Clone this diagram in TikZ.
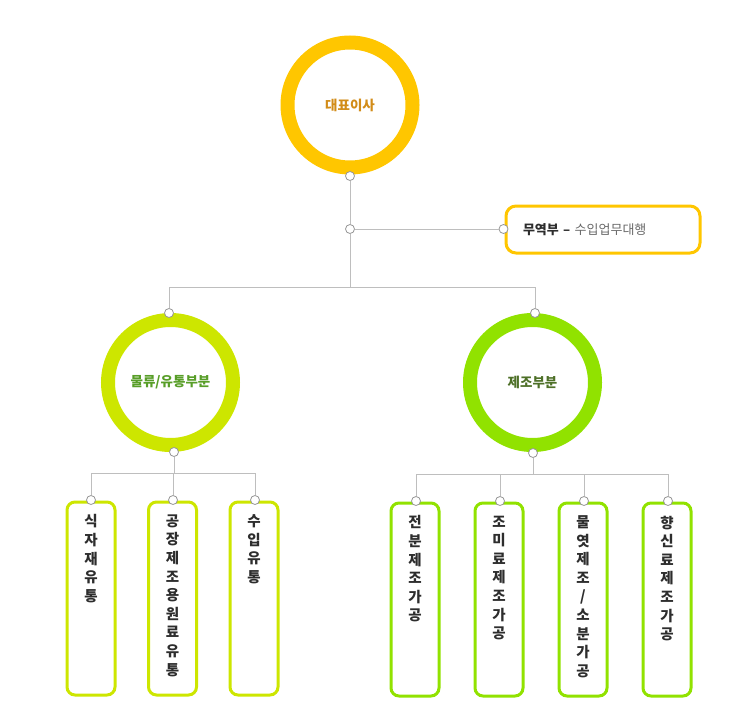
\documentclass[tikz,border=0pt]{standalone}
\usepackage{fontspec}
\setmainfont{Noto Sans CJK KR}
\usetikzlibrary{positioning}
\definecolor{ceoyellow}{RGB}{255,198,0}
\definecolor{ceotext}{RGB}{210,140,24}
\definecolor{logigreen}{RGB}{205,230,0}
\definecolor{logitext}{RGB}{88,158,40}
\definecolor{makegreen}{RGB}{145,226,0}
\definecolor{maketext}{RGB}{78,112,40}
\definecolor{linkgray}{RGB}{190,190,190}
\definecolor{dotgray}{RGB}{150,150,150}
\definecolor{darktext}{RGB}{45,45,45}
\definecolor{softtext}{RGB}{105,105,105}

\begin{document}
\begin{tikzpicture}[x=1pt,y=-1pt]
    \tikzstyle{ring}=[circle, minimum size=125pt, inner sep=0pt, line width=14pt, fill=white, font=\fontsize{13.5}{15}\selectfont\bfseries]
    \tikzstyle{dot}=[circle, minimum size=9pt, inner sep=0pt, draw=dotgray, fill=white, line width=0.8pt]
    \tikzstyle{link}=[draw=linkgray, line width=0.9pt]
    \tikzstyle{tag}=[rectangle, rounded corners=8pt, line width=3pt, minimum width=48pt, minimum height=193pt, inner sep=0pt]
    \tikzstyle{tagtext}=[anchor=north, align=center, inner sep=0pt, text=darktext, font=\fontsize{14.5}{18.6}\selectfont\bfseries]

    \useasboundingbox (0,0) rectangle (750,720);

    % rings
    \node[ring, draw=ceoyellow, text=ceotext] (CEO) at (350,105) {대표이사};
    \node[ring, draw=logigreen, text=logitext] (LOG) at (170.5,382.5) {물류/유통부분};
    \node[ring, draw=makegreen, text=maketext] (MAK) at (532.5,382.5) {제조부분};

    \node[rectangle, rounded corners=10pt, draw=ceoyellow, line width=3pt, text width=160pt, inner xsep=17pt, minimum height=47pt, align=left,
          font=\fontsize{13}{15}\selectfont] (TRD) at (603,229.5)
          {{\bfseries\color{darktext}무역부 –} {\color{softtext}수입업무대행}};

    % lower boxes
    \node[tag, draw=logigreen] (L-1) at (91,598.5) {};
    \node[tag, draw=logigreen] (L-2) at (172.5,598.5) {};
    \node[tag, draw=logigreen] (L-3) at (254,598.5) {};
    \node[tag, draw=makegreen] (M-1) at (415,599.5) {};
    \node[tag, draw=makegreen] (M-2) at (499,599.5) {};
    \node[tag, draw=makegreen] (M-3) at (583,599.5) {};
    \node[tag, draw=makegreen] (M-4) at (667,599.5) {};

    \node[tagtext] at ([yshift=-14pt]L-1.north) {식\\자\\재\\유\\통};
    \node[tagtext] at ([yshift=-14pt]L-2.north) {공\\장\\제\\조\\용\\원\\료\\유\\통};
    \node[tagtext] at ([yshift=-14pt]L-3.north) {수\\입\\유\\통};
    \node[tagtext] at ([yshift=-14pt]M-1.north) {전\\분\\제\\조\\가\\공};
    \node[tagtext] at ([yshift=-14pt]M-2.north) {조\\미\\료\\제\\조\\가\\공};
    \node[tagtext] at ([yshift=-14pt]M-3.north) {물\\엿\\제\\조\\/\\소\\분\\가\\공};
    \node[tagtext] at ([yshift=-14pt]M-4.north) {향\\신\\료\\제\\조\\가\\공};

    % dots
    \node[dot] (d-ceo) at (350,176) {};
    \node[dot] (d-mid) at (350,229) {};
    \node[dot] (d-trd) at (503.5,229) {};
    \node[dot] (d-log) at (169,313) {};
    \node[dot] (d-mak) at (535,313) {};
    \node[dot] (d-logb) at (174,452) {};
    \node[dot] (d-makb) at (533,453) {};
    \node[dot] (d-L1) at (91,500) {};
    \node[dot] (d-L2) at (173,500) {};
    \node[dot] (d-L3) at (255,500) {};
    \node[dot] (d-M1) at (416,501) {};
    \node[dot] (d-M2) at (500,501) {};
    \node[dot] (d-M3) at (584,501) {};
    \node[dot] (d-M4) at (668,501) {};

    \coordinate (split) at (350,287);
    \coordinate (split-L) at (174,473);
    \coordinate (split-M) at (533,474);

    % connectors
    \draw[link] (d-ceo) -- (d-mid);
    \draw[link] (d-mid) -- (d-trd);
    \draw[link] (d-mid) -- (split);
    \draw[link] (split) -| (d-log);
    \draw[link] (split) -| (d-mak);
    \draw[link] (d-logb) -- (split-L);
    \draw[link] (split-L) -| (d-L1);
    \draw[link] (split-L) -| (d-L2);
    \draw[link] (split-L) -| (d-L3);
    \draw[link] (d-makb) -- (split-M);
    \draw[link] (split-M) -| (d-M1);
    \draw[link] (split-M) -| (d-M2);
    \draw[link] (split-M) -| (d-M3);
    \draw[link] (split-M) -| (d-M4);
\end{tikzpicture}
\end{document}
